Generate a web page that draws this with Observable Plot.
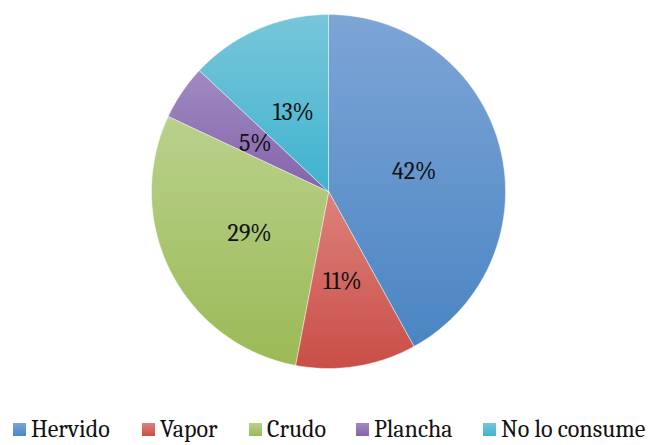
<!DOCTYPE html>
<html>
<head>
<meta charset="utf-8">
<script src="https://cdn.jsdelivr.net/npm/d3@7"></script>
<script src="https://cdn.jsdelivr.net/npm/@observablehq/plot@0.6"></script>
<style>
  html, body { margin: 0; padding: 0; background: #fff; }
  #chart { width: 658px; height: 445px; position: relative; font-family: Cambria, 'Liberation Serif', serif; }
  #legend { position: relative; height: 40px; }
  .item { position: absolute; top: 12px; display: flex; align-items: center; font-size: 24px; color: #111; line-height: 1; font-family: Cambria, 'Liberation Serif', serif; }
  .sw { width: 13px; height: 13px; margin-right: 5px; }
</style>
</head>
<body>
<div id="chart"></div>
<script>
// Preparation methods and their share of respondents (%)
const categories = ["Hervido", "Vapor", "Crudo", "Plancha", "No lo consume"];
const shares = [42, 11, 29, 5, 13];
// Light (top) and dark (bottom) stops of each slice's vertical gradient
const lightColors = ["#7DA5D6", "#DC827B", "#B9D18C", "#A08AC2", "#78C6DA"];
const darkColors  = ["#4A85C3", "#C94E47", "#9BBA55", "#8464AB", "#3FB3CF"];

const data = categories.map((name, i) => ({name, value: shares[i], i}));

// Clockwise from 12 o'clock, in chart order
const arcs = d3.pie().sort(null).value(d => d.value).startAngle(0).endAngle(2 * Math.PI)(data);

// Unit-circle polygons (y pointing up) for each slice
function wedge(a0, a1) {
  const n = Math.max(4, Math.ceil((a1 - a0) / (Math.PI / 180)));
  const ring = [[0, 0]];
  for (let k = 0; k <= n; ++k) {
    const a = a0 + (a1 - a0) * k / n;
    ring.push([Math.sin(a), Math.cos(a)]);
  }
  ring.push([0, 0]);
  return ring.reverse();
}
const slices = arcs.map(a => ({
  type: "Feature",
  properties: {name: a.data.name, i: a.data.i},
  geometry: {type: "Polygon", coordinates: [wedge(a.startAngle, a.endAngle)]}
}));
const outline = {
  type: "Polygon",
  coordinates: [wedge(0, 2 * Math.PI - 1e-9)]
};
const labels = arcs.map(a => {
  const m = (a.startAngle + a.endAngle) / 2;
  return {x: 0.5 * Math.sin(m), y: 0.5 * Math.cos(m), text: `${a.data.value}%`};
});

const serif = "Cambria, 'Liberation Serif', serif";

const plot = Plot.plot({
  width: 658,
  height: 405,
  marginLeft: 151,
  marginRight: 153,
  marginTop: 14,
  marginBottom: 37,
  style: {fontFamily: serif},
  projection: {type: "reflect-y", domain: outline},
  marks: [
    Plot.geo(slices, {
      fill: d => `url(#grad${d.properties.i})`,
      stroke: "#ffffff",
      strokeOpacity: 0.6,
      strokeWidth: 0.75
    }),
    Plot.text(labels, {
      x: "x", y: "y", text: "text",
      fontSize: 24,
      dy: 2,
      fontFamily: serif,
      fill: "#111"
    })
  ]
});

// Per-slice vertical gradients, lighter at the top
const defs = d3.select(plot).insert("defs", ":first-child");
categories.forEach((c, i) => {
  const g = defs.append("linearGradient").attr("id", `grad${i}`)
    .attr("x1", 0).attr("y1", 0).attr("x2", 0).attr("y2", 1);
  g.append("stop").attr("offset", "0%").attr("stop-color", lightColors[i]);
  g.append("stop").attr("offset", "100%").attr("stop-color", darkColors[i]);
});

const chart = document.getElementById("chart");
chart.appendChild(plot);

// Legend row below the pie
const legend = document.createElement("div");
legend.id = "legend";
const lefts = [13, 142, 249, 356, 483];
categories.forEach((c, i) => {
  const item = document.createElement("div");
  item.className = "item";
  item.style.left = lefts[i] + "px";
  item.style.fontFamily = serif;
  const sw = document.createElement("span");
  sw.className = "sw";
  sw.style.background = `linear-gradient(${lightColors[i]}, ${darkColors[i]})`;
  const t = document.createElement("span");
  t.textContent = c;
  item.appendChild(sw);
  item.appendChild(t);
  legend.appendChild(item);
});
chart.appendChild(legend);
</script>
</body>
</html>
